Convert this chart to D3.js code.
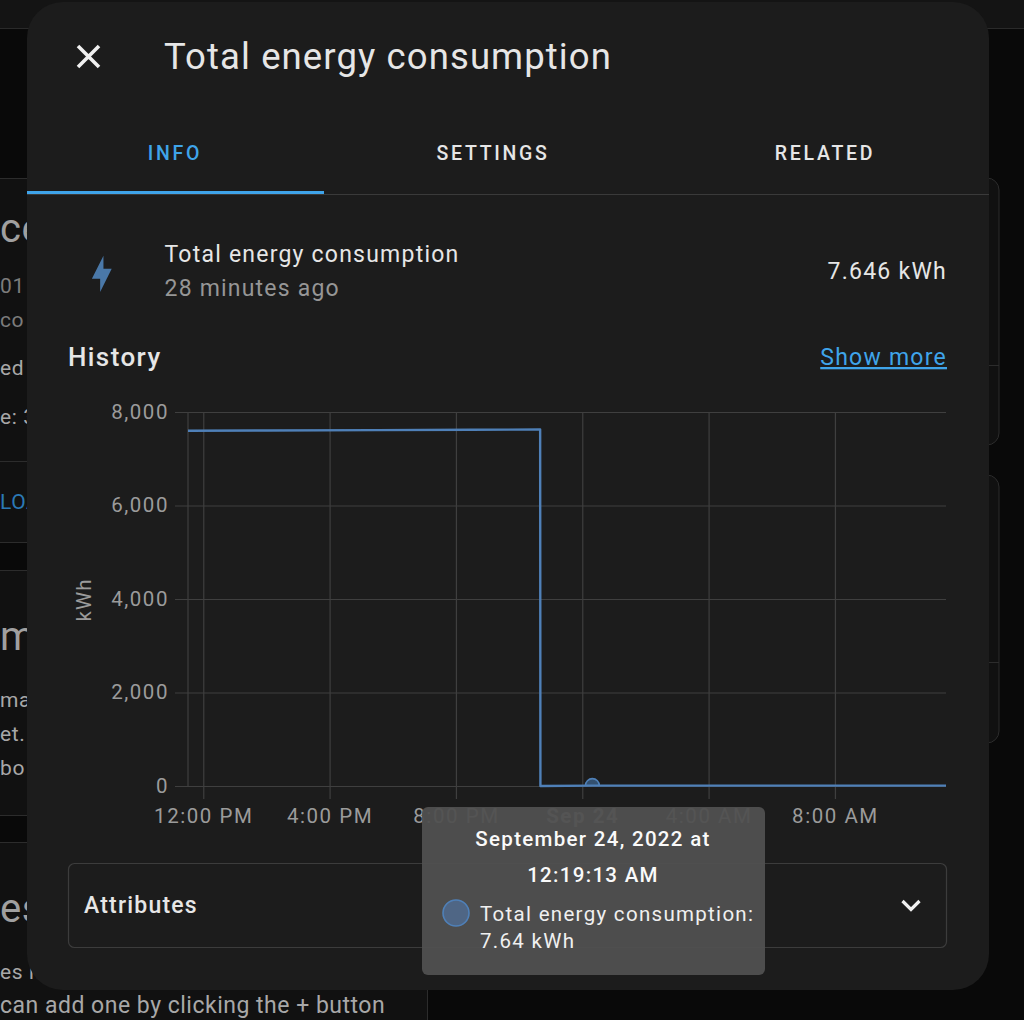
<!DOCTYPE html>
<html>
<head>
<meta charset="utf-8">
<title>Total energy consumption</title>
<script src="https://cdnjs.cloudflare.com/ajax/libs/d3/7.8.5/d3.min.js"></script>
<style>
  html, body { margin: 0; padding: 0; background: #090909; overflow: hidden; }
  svg { display: block; }
  text { font-family: Roboto, sans-serif; }
</style>
</head>
<body>
<div id="chart"></div>
<script>
// readings
var readingTimes = [
  new Date(2022, 8, 23, 11, 31, 0),
  new Date(2022, 8, 23, 14, 0, 0),
  new Date(2022, 8, 23, 17, 30, 0),
  new Date(2022, 8, 23, 20, 30, 0),
  new Date(2022, 8, 23, 22, 40, 0),
  new Date(2022, 8, 23, 22, 40, 30),
  new Date(2022, 8, 24, 0, 19, 13),
  new Date(2022, 8, 24, 4, 0, 0),
  new Date(2022, 8, 24, 11, 31, 0)
];
var readingValues = [7600, 7605, 7612, 7620, 7625, 0, 7.64, 7.64, 7.646];

var xTickTimes = [
  new Date(2022, 8, 23, 12),
  new Date(2022, 8, 23, 16),
  new Date(2022, 8, 23, 20),
  new Date(2022, 8, 24, 0),
  new Date(2022, 8, 24, 4),
  new Date(2022, 8, 24, 8)
];
var xTickLabels = ["12:00 PM", "4:00 PM", "8:00 PM", "Sep 24", "4:00 AM", "8:00 AM"];
var yTicks = [0, 2000, 4000, 6000, 8000];
var hoverIndex = 6;

var tabNames = ["INFO", "SETTINGS", "RELATED"];
var tabCentres = [175, 493, 825];

// the page behind the dialog: [text, x, y, size, colour, spacing]
var behindText = [
  ["ce", 0, 242, 40, "#a0a0a0", 0.6],
  ["01", 0, 293, 21, "#7c7c7c", 0.6],
  ["co", 0, 327, 21, "#7c7c7c", 0.6],
  ["ed", 0, 375, 21, "#a8a8a8", 0.6],
  ["e: 3", 0, 424, 21, "#a8a8a8", 0.6],
  ["LOA", 0, 509, 21, "#2b79b5", 0.6],
  ["m", 0, 650, 40, "#a0a0a0", 0.6],
  ["ma", 0, 707, 21, "#a8a8a8", 0.6],
  ["et.", 0, 741, 21, "#a8a8a8", 0.6],
  ["bo", 0, 775, 21, "#a8a8a8", 0.6],
  ["es", 0, 922, 40, "#a0a0a0", 0.6],
  ["es n", 0, 979, 21, "#a8a8a8", 0.6],
  ["can add one by clicking the + button", 0, 1013, 23, "#a8a8a8", 0.5]
];

var width = 1024, height = 1020;
var svg = d3.select("#chart").append("svg").attr("width", width).attr("height", height);

// ---- page behind ----
var behind = svg.append("g");
behind.append("rect").attr("width", width).attr("height", 28).attr("fill", "#141414");
behind.append("rect").attr("y", 28).attr("width", width).attr("height", 1).attr("fill", "#2a2a2a");
behind.append("rect").attr("y", 178).attr("width", 60).attr("height", 364).attr("fill", "#111");
behind.append("rect").attr("y", 570).attr("width", 60).attr("height", 245).attr("fill", "#111");
behind.append("rect").attr("y", 842).attr("width", 428).attr("height", 178).attr("fill", "#111");
[178, 461, 542, 570, 815, 842].forEach(function (y) {
  behind.append("rect").attr("y", y).attr("width", 60).attr("height", 1).attr("fill", "#2c2c2c");
});
behind.append("rect").attr("x", 427).attr("y", 980).attr("width", 1).attr("height", 40).attr("fill", "#2c2c2c");
behind.selectAll("text.behind").data(behindText).enter().append("text")
  .attr("class", "behind")
  .attr("x", function (d) { return d[1]; })
  .attr("y", function (d) { return d[2]; })
  .attr("font-size", function (d) { return d[3]; })
  .attr("fill", function (d) { return d[4]; })
  .attr("letter-spacing", function (d) { return d[5]; })
  .text(function (d) { return d[0]; });
// right hand cards peeking out
[[178, 445, 365], [475, 743, 662]].forEach(function (c) {
  behind.append("rect").attr("x", 960).attr("y", c[0]).attr("width", 39).attr("height", c[1] - c[0])
    .attr("rx", 12).attr("fill", "#111").attr("stroke", "#2c2c2c");
  behind.append("rect").attr("x", 960).attr("y", c[2]).attr("width", 39).attr("height", 1).attr("fill", "#2c2c2c");
});

// ---- dialog ----
svg.append("rect").attr("x", 27).attr("y", 2).attr("width", 962).attr("height", 988)
  .attr("rx", 36).attr("fill", "#1c1c1c");

svg.append("path").attr("d", "M78 46L99 67M99 46L78 67")
  .attr("stroke", "#f0f0f0").attr("stroke-width", 3.6).attr("fill", "none");

svg.append("text").attr("x", 164).attr("y", 69).attr("font-size", 36.5).attr("letter-spacing", 1.1)
  .attr("fill", "#e6e6e6").text("Total energy consumption");

svg.selectAll("text.tab").data(tabNames).enter().append("text")
  .attr("class", "tab")
  .attr("x", function (d, i) { return tabCentres[i]; })
  .attr("y", 160).attr("text-anchor", "middle")
  .attr("font-size", 19.5).attr("font-weight", 500).attr("letter-spacing", 2.7)
  .attr("fill", function (d, i) { return i === 0 ? "#3fa4ea" : "#e6e6e6"; })
  .text(function (d) { return d; });
svg.append("rect").attr("x", 27).attr("y", 194).attr("width", 962).attr("height", 1).attr("fill", "#3a3a3a");
svg.append("rect").attr("x", 27).attr("y", 191).attr("width", 297).attr("height", 3).attr("fill", "#3fa4ea");

// state row
svg.append("path").attr("d", "M11 15H6L13 1V9H18L11 23V15Z")
  .attr("transform", "translate(82,254) scale(1.65)").attr("fill", "#4a78a8");
svg.append("text").attr("x", 164.5).attr("y", 262).attr("font-size", 23).attr("letter-spacing", 1.22)
  .attr("fill", "#e6e6e6").text("Total energy consumption");
svg.append("text").attr("x", 164.5).attr("y", 296).attr("font-size", 23).attr("letter-spacing", 1.2)
  .attr("fill", "#969696").text("28 minutes ago");
svg.append("text").attr("x", 947).attr("y", 279).attr("text-anchor", "end").attr("font-size", 23).attr("letter-spacing", 1.25)
  .attr("fill", "#e6e6e6").text("7.646 kWh");

svg.append("text").attr("x", 68).attr("y", 366).attr("font-size", 26).attr("font-weight", 500).attr("letter-spacing", 1.4)
  .attr("fill", "#e6e6e6").text("History");
svg.append("text").attr("x", 947).attr("y", 365).attr("text-anchor", "end").attr("font-size", 23).attr("letter-spacing", 1.25)
  .attr("fill", "#3fa4ea").attr("text-decoration", "underline").text("Show more");

// ---- chart ----
var x = d3.scaleTime().domain([readingTimes[0], readingTimes[readingTimes.length - 1]]).range([188, 946]);
var y = d3.scaleLinear().domain([0, 8000]).range([786, 412]);
var gridColor = "#3f3f3f";
var tickColor = "#9b9b9b";

var xAxis = d3.axisBottom(x).tickValues(xTickTimes).tickSize(-374 - 13).tickPadding(0)
  .tickFormat(function (d, i) { return xTickLabels[i]; });
var xg = svg.append("g").attr("transform", "translate(0,799)").call(xAxis);
xg.select(".domain").remove();
xg.selectAll("line").attr("stroke", gridColor).attr("stroke-width", 1.2);
xg.selectAll("text").attr("y", 9).attr("font-size", 20.5).attr("letter-spacing", 1.55)
  .attr("font-family", "Roboto, sans-serif")
  .attr("font-weight", function (d, i) { return i === 3 ? 700 : 400; })
  .attr("fill", tickColor);

var yAxis = d3.axisLeft(y).tickValues(yTicks).tickSize(946 - 175).tickPadding(6)
  .tickFormat(d3.format(","));
var yg = svg.append("g").attr("transform", "translate(946,0)").call(yAxis);
yg.select(".domain").remove();
yg.selectAll("line").attr("stroke", gridColor).attr("stroke-width", 1.2);
yg.selectAll("text").attr("font-size", 20.5).attr("letter-spacing", 1.55)
  .attr("font-family", "Roboto, sans-serif").attr("dy", "0.3em").attr("fill", tickColor);

// left edge of the plot
svg.append("line").attr("x1", x.range()[0]).attr("x2", x.range()[0]).attr("y1", y(8000)).attr("y2", y(0))
  .attr("stroke", gridColor).attr("stroke-width", 1.2);

svg.append("text").attr("transform", "translate(91,600) rotate(-90)").attr("text-anchor", "middle")
  .attr("font-size", 20.5).attr("letter-spacing", 1).attr("fill", tickColor).text("kWh");

// the plot area clips the hovered point, only its top half shows
svg.append("clipPath").attr("id", "plotClip").append("rect")
  .attr("x", x.range()[0]).attr("y", y(8000))
  .attr("width", x.range()[1] - x.range()[0]).attr("height", y(0) - y(8000));
svg.append("circle").attr("clip-path", "url(#plotClip)")
  .attr("cx", x(readingTimes[hoverIndex])).attr("cy", y(readingValues[hoverIndex]))
  .attr("r", 7).attr("fill", "#33506f").attr("stroke", "#4f80b8").attr("stroke-width", 1.6);

var line = d3.line()
  .x(function (d) { return x(d[0]); })
  .y(function (d) { return y(d[1]); });
svg.append("path").datum(d3.zip(readingTimes, readingValues))
  .attr("d", line).attr("fill", "none").attr("stroke", "#4f80b8").attr("stroke-width", 2.4)
  .attr("stroke-linejoin", "round");

// ---- attributes row ----
svg.append("rect").attr("x", 68.5).attr("y", 863.5).attr("width", 878).attr("height", 84).attr("rx", 6)
  .attr("fill", "none").attr("stroke", "#3c3c3c").attr("stroke-width", 1.2);
svg.append("text").attr("x", 84).attr("y", 913).attr("font-size", 23).attr("font-weight", 500).attr("letter-spacing", 1.2)
  .attr("fill", "#e6e6e6").text("Attributes");
svg.append("path").attr("d", "M902.5 901L911 909.5L919.5 901").attr("fill", "none")
  .attr("stroke", "#f0f0f0").attr("stroke-width", 3.2);

// ---- tooltip ----
var tip = svg.append("g");
tip.append("rect").attr("x", 422).attr("y", 807).attr("width", 343).attr("height", 168).attr("rx", 6)
  .attr("fill", "#505050").attr("fill-opacity", 0.95);
var tipTitle = ["September 24, 2022 at", "12:19:13 AM"];
tip.selectAll("text.tipTitle").data(tipTitle).enter().append("text")
  .attr("class", "tipTitle")
  .attr("x", 593)
  .attr("y", function (d, i) { return 846 + i * 36; })
  .attr("text-anchor", "middle").attr("font-size", 20.5).attr("font-weight", 500).attr("letter-spacing", 1.3)
  .attr("fill", "#fafafa").text(function (d) { return d; });
tip.append("circle").attr("cx", 456).attr("cy", 913).attr("r", 13)
  .attr("fill", "#4f6685").attr("stroke", "#4f80b8").attr("stroke-width", 1.6);
tip.append("text").attr("x", 480).attr("y", 921).attr("font-size", 20.5).attr("letter-spacing", 1.3)
  .attr("fill", "#f0f0f0").text("Total energy consumption:");
tip.append("text").attr("x", 480).attr("y", 948).attr("font-size", 20.5).attr("letter-spacing", 1.3)
  .attr("fill", "#f0f0f0").text(readingValues[hoverIndex] + " kWh");
</script>
</body>
</html>
